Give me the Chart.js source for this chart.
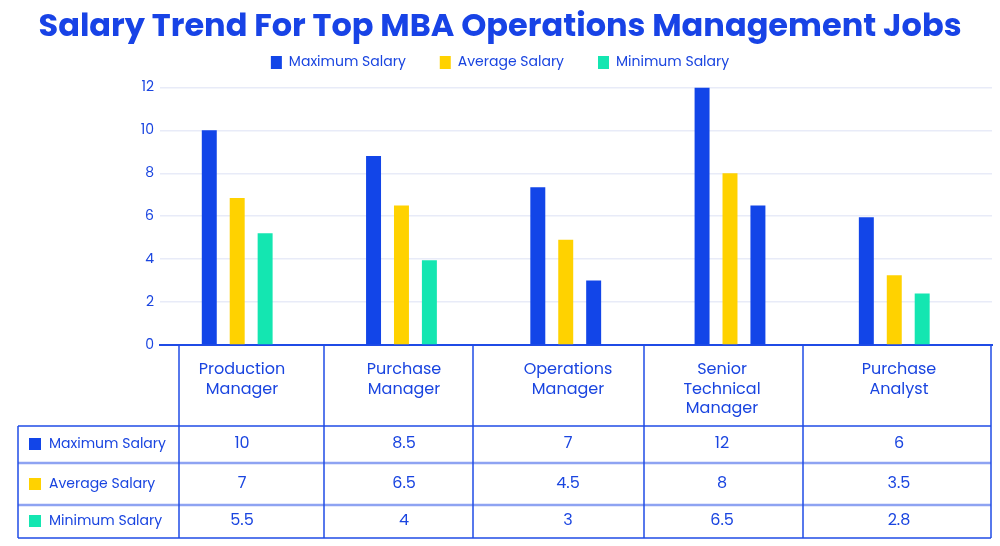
<!DOCTYPE html>
<html>
<head>
<meta charset="utf-8">
<script src="https://cdn.jsdelivr.net/npm/chart.js@4/dist/chart.umd.min.js"></script>
<style>
  html, body { margin: 0; padding: 0; background: #fff; }
  #wrap { width: 1000px; height: 546px; position: relative; }
</style>
</head>
<body>
<div id="wrap"><canvas id="salaryChart" width="1000" height="546"></canvas></div>
<script>
// job roles (table header / x categories)
const categories = [
  ['Production', 'Manager'],
  ['Purchase', 'Manager'],
  ['Operations', 'Manager'],
  ['Senior', 'Technical', 'Manager'],
  ['Purchase', 'Analyst']
];
const seriesNames = ['Maximum Salary', 'Average Salary', 'Minimum Salary'];

// bar heights as drawn in the picture
const maxSalary = [10, 8.8, 7.35, 12, 5.95];
const avgSalary = [6.85, 6.5, 4.9, 8, 3.25];
const minSalary = [5.2, 3.95, 3.0, 6.5, 2.4];

// values printed in the table under the chart
const maxTable = ['10', '8.5', '7', '12', '6'];
const avgTable = ['7', '6.5', '4.5', '8', '3.5'];
const minTable = ['5.5', '4', '3', '6.5', '2.8'];

const yTicks = [0, 2, 4, 6, 8, 10, 12];

const BLUE = '#1245e8';
const YELLOW = '#ffd200';
const GREEN = '#14e6b1';
const TEXT = '#1a45e0';
const FONT = 'Poppins, "Noto Sans", sans-serif';

// the 3rd bar of two groups is painted blue in the source
const minColors = [GREEN, GREEN, BLUE, BLUE, GREEN];

const toPoints = arr => arr.map((v, i) => ({ x: i, y: v }));

// a bit more room under the legend
const legendGap = {
  id: 'legendGap',
  beforeInit(chart) {
    const fit = chart.legend.fit;
    chart.legend.fit = function () {
      fit.call(this);
      this.height += 8;
    };
  }
};

// table under the plot
const tablePlugin = {
  id: 'salaryTable',
  afterDraw(chart) {
    const ctx = chart.ctx;
    const colX = [179, 324, 473, 644, 803, 991];
    const leftX = 18;
    const rowY = [345, 426, 463, 505, 538];
    const textX = [242, 404, 568, 722, 899];
    ctx.save();

    // light inner row separators
    ctx.strokeStyle = '#8ea3f2';
    ctx.lineWidth = 2.5;
    [rowY[2], rowY[3]].forEach(y => {
      ctx.beginPath(); ctx.moveTo(leftX, y); ctx.lineTo(colX[5], y); ctx.stroke();
    });

    ctx.strokeStyle = '#1f4be6';
    ctx.lineWidth = 1.5;
    colX.forEach(x => {
      ctx.beginPath(); ctx.moveTo(x, rowY[0]); ctx.lineTo(x, rowY[4]); ctx.stroke();
    });
    ctx.beginPath(); ctx.moveTo(leftX, rowY[1]); ctx.lineTo(leftX, rowY[4]); ctx.stroke();
    [rowY[1], rowY[4]].forEach(y => {
      ctx.beginPath(); ctx.moveTo(leftX, y); ctx.lineTo(colX[5], y); ctx.stroke();
    });

    ctx.fillStyle = TEXT;
    ctx.textAlign = 'center';
    ctx.textBaseline = 'middle';
    ctx.font = '16px ' + FONT;
    categories.forEach((lines, i) => {
      lines.forEach((t, j) => ctx.fillText(t, textX[i], 370 + j * 19.5));
    });

    const rows = [maxTable, avgTable, minTable];
    const rowMid = [444, 484, 521];
    const boxColors = [BLUE, YELLOW, GREEN];
    rows.forEach((vals, r) => {
      ctx.fillStyle = boxColors[r];
      ctx.fillRect(29, rowMid[r] - 6, 12, 12);
      ctx.fillStyle = TEXT;
      ctx.textAlign = 'left';
      ctx.font = '14px ' + FONT;
      ctx.fillText(seriesNames[r], 49, rowMid[r]);
      ctx.textAlign = 'center';
      ctx.font = '16px ' + FONT;
      vals.forEach((v, i) => ctx.fillText(v, textX[i], rowMid[r]));
    });
    ctx.restore();
  }
};

new Chart(document.getElementById('salaryChart'), {
  type: 'bar',
  data: {
    datasets: [
      { label: seriesNames[0], data: toPoints(maxSalary), backgroundColor: BLUE },
      { label: seriesNames[1], data: toPoints(avgSalary), backgroundColor: YELLOW },
      { label: seriesNames[2], data: toPoints(minSalary), backgroundColor: minColors }
    ]
  },
  options: {
    responsive: false,
    animation: false,
    categoryPercentage: 0.51,
    barPercentage: 0.536,
    layout: { padding: { left: 8, right: 8, top: 0, bottom: 201 } },
    plugins: {
      title: {
        display: true,
        text: 'Salary Trend For Top MBA Operations Management Jobs',
        color: '#1843e6',
        font: { family: FONT, size: 32, weight: 'bold' },
        padding: { top: 9, bottom: -26 }
      },
      legend: {
        labels: {
          color: TEXT,
          font: { family: FONT, size: 14 },
          boxWidth: 11,
          boxHeight: 13,
          padding: 34,
          generateLabels(chart) {
            return seriesNames.map((name, i) => ({
              text: name,
              fillStyle: [BLUE, YELLOW, GREEN][i],
              strokeStyle: [BLUE, YELLOW, GREEN][i],
              lineWidth: 0,
              fontColor: TEXT,
              datasetIndex: i
            }));
          }
        }
      },
      tooltip: { enabled: false }
    },
    scales: {
      x: {
        type: 'linear',
        offset: false,
        min: -0.47,
        max: 4.595,
        afterBuildTicks(scale) {
          scale.ticks = categories.map((_, i) => ({ value: i }));
        },
        ticks: { display: false },
        grid: { display: false, drawTicks: false, offset: false },
        border: { color: '#1f4be6', width: 2 }
      },
      y: {
        min: 0,
        max: 12,
        afterBuildTicks(scale) {
          scale.ticks = yTicks.map(v => ({ value: v }));
        },
        afterFit(scale) { scale.width = 152; },
        ticks: { color: TEXT, font: { family: FONT, size: 14 }, padding: 6 },
        grid: { color: '#e8ebf8', lineWidth: 1.5, drawTicks: false },
        border: { display: false }
      }
    }
  },
  plugins: [legendGap, tablePlugin]
});
</script>
</body>
</html>
